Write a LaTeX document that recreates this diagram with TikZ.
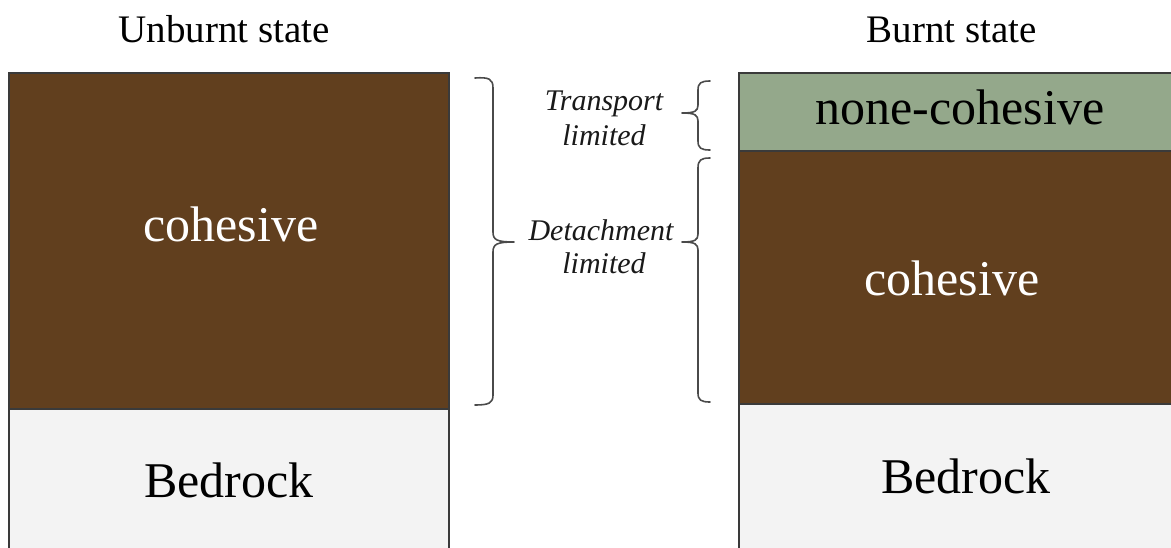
\documentclass[tikz,border=0pt]{standalone}
\usepackage{fontspec}
\setmainfont{Liberation Serif}
\definecolor{soilbrown}{HTML}{613F1E}
\definecolor{ashgreen}{HTML}{94A88B}
\definecolor{rockgray}{HTML}{F3F3F3}
\definecolor{edgegray}{HTML}{3A3A3A}
\definecolor{bracegray}{HTML}{4A4A4A}
\tikzset{
  layer/.style={draw=edgegray, line width=1.8pt},
  bracepath/.style={draw=bracegray, line width=1.6pt, line cap=round, line join=round},
  header/.style={anchor=base, font=\fontsize{39}{46}\selectfont, text=black, inner sep=0pt},
  bigtext/.style={anchor=base, font=\fontsize{50}{60}\selectfont, inner sep=0pt},
  lbl/.style={anchor=base, font=\fontsize{30}{36}\selectfont\itshape, text=black!90, inner sep=0pt}
}
\begin{document}
\begin{tikzpicture}[x=1pt,y=-1pt]
\useasboundingbox (0,0) rectangle (1171,547);
\fill[white] (0,0) rectangle (1171,547);
% left column
\fill[rockgray] (9,409) rectangle (449,560);
\fill[soilbrown] (9,73) rectangle (449,409);
\draw[layer] (9,560) -- (9,73) -- (449,73) -- (449,560);
\draw[layer] (9,409) -- (449,409);
% right column
\fill[rockgray] (739,404) rectangle (1180,560);
\fill[soilbrown] (739,151) rectangle (1180,404);
\fill[ashgreen] (739,73) rectangle (1180,151);
\draw[layer] (739,560) -- (739,73) -- (1180,73);
\draw[layer] (739,151) -- (1180,151);
\draw[layer] (739,404) -- (1180,404);
% headers
\node[header] (hL) at (224,42) {Unburnt state};
\node[header] (hR) at (952,42) {Burnt state};
% layer texts
\node[bigtext, text=white] (cohL) at (231,241) {cohesive};
\node[bigtext, text=black] (bedL) at (229,497) {Bedrock};
\node[bigtext, text=black] (nonR) at (960,124) {none-cohesive};
\node[bigtext, text=white] (cohR) at (952,295) {cohesive};
\node[bigtext, text=black] (bedR) at (966,493) {Bedrock};
% labels
\node[lbl] (tr1) at (604,110) {Transport};
\node[lbl] (tr2) at (604,145) {limited};
\node[lbl] (de1) at (601,240) {Detachment};
\node[lbl] (de2) at (604,273) {limited};
% left big brace }
\draw[bracepath] (475,78) .. controls (489,77) and (493,79) .. (493,88)
  -- (493,232) .. controls (493,240) and (497,242) .. (514,242)
  .. controls (497,242) and (493,244) .. (493,252)
  -- (493,395) .. controls (493,403) and (489,405) .. (475,405);
% right small brace {
\draw[bracepath] (710,81) .. controls (701,81) and (698,83) .. (698,90)
  -- (698,105) .. controls (698,111) and (695,113) .. (682,113)
  .. controls (695,113) and (698,115) .. (698,121)
  -- (698,141) .. controls (698,148) and (701,150) .. (710,150);
% right large brace {
\draw[bracepath] (710,158) .. controls (701,158) and (698,160) .. (698,168)
  -- (698,234) .. controls (698,240) and (695,242) .. (682,242)
  .. controls (695,242) and (698,244) .. (698,250)
  -- (698,393) .. controls (698,400) and (701,402) .. (710,402);
\end{tikzpicture}
\end{document}
